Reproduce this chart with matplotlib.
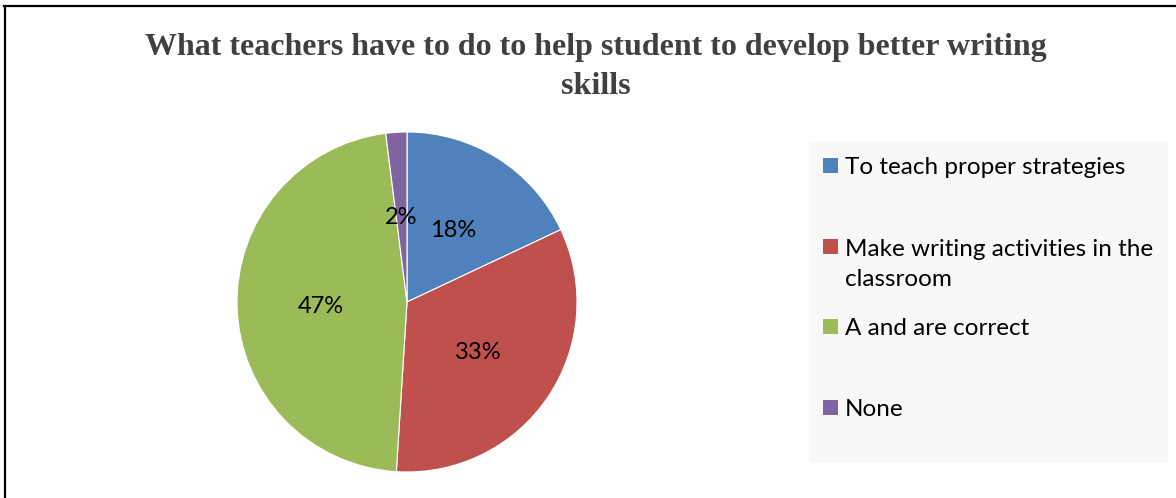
import matplotlib.pyplot as plt
from matplotlib.patches import Rectangle
from matplotlib.lines import Line2D

# Survey answers
labels = ['To teach proper strategies',
          'Make writing activities in the\nclassroom',
          'A and are correct',
          'None']
shares = [18, 33, 47, 2]
colors = ['#4F81BD', '#C0504D', '#9BBB59', '#8064A2']

title = 'What teachers have to do to help student to develop better writing\nskills'

W, H = 1176, 498
fig = plt.figure(figsize=(W / 100, H / 100), dpi=100)

# frame lines along the top and left
fig.add_artist(Line2D([4 / W, 1], [1 - 6 / H, 1 - 6 / H], color='black', lw=1.6))
fig.add_artist(Line2D([5 / W, 5 / W], [0, 1 - 6 / H], color='black', lw=1.6))

fig.text(596 / W, 1 - 67 / H, title, ha='center', va='center',
         fontsize=23, fontweight='bold', family='Liberation Serif',
         color='#404040', linespacing=1.42)

# pie, centre (407, 302), radius 170 px
cx, cy, r = 407, 302, 170
ax = fig.add_axes([(cx - r) / W, (H - cy - r) / H, 2 * r / W, 2 * r / H])
wedges, texts, pcts = ax.pie(shares, colors=colors, startangle=90, counterclock=False,
                             autopct='%1.0f%%', pctdistance=0.51,
                             wedgeprops=dict(edgecolor='white', linewidth=0.8),
                             textprops=dict(fontsize=17, family='Lato', color='black'))
for t in pcts:
    t.set_va('center_baseline')
ax.set_xlim(-1, 1)
ax.set_ylim(-1, 1)
ax.set_aspect('equal')
ax.axis('off')

# legend panel
fig.add_artist(Rectangle((809 / W, 1 - 463 / H), 359 / W, 321 / H,
                         transform=fig.transFigure, facecolor='#F8F8F8',
                         edgecolor='none', zorder=0))
rows = [166, 247, 326, 407]
for y, lab, col in zip(rows, labels, colors):
    fig.add_artist(Rectangle((823 / W, 1 - (y + 7.5) / H), 15 / W, 15 / H,
                             transform=fig.transFigure, facecolor=col,
                             edgecolor='none'))
    # wrapped entries continue one line (31 px) further down
    for i, line in enumerate(lab.split('\n')):
        fig.text(845 / W, 1 - (y + 31 * i) / H, line, ha='left',
                 va='center_baseline', fontsize=17.5, family='Lato',
                 color='black')

fig.savefig('out.png', dpi=100, facecolor='white')
